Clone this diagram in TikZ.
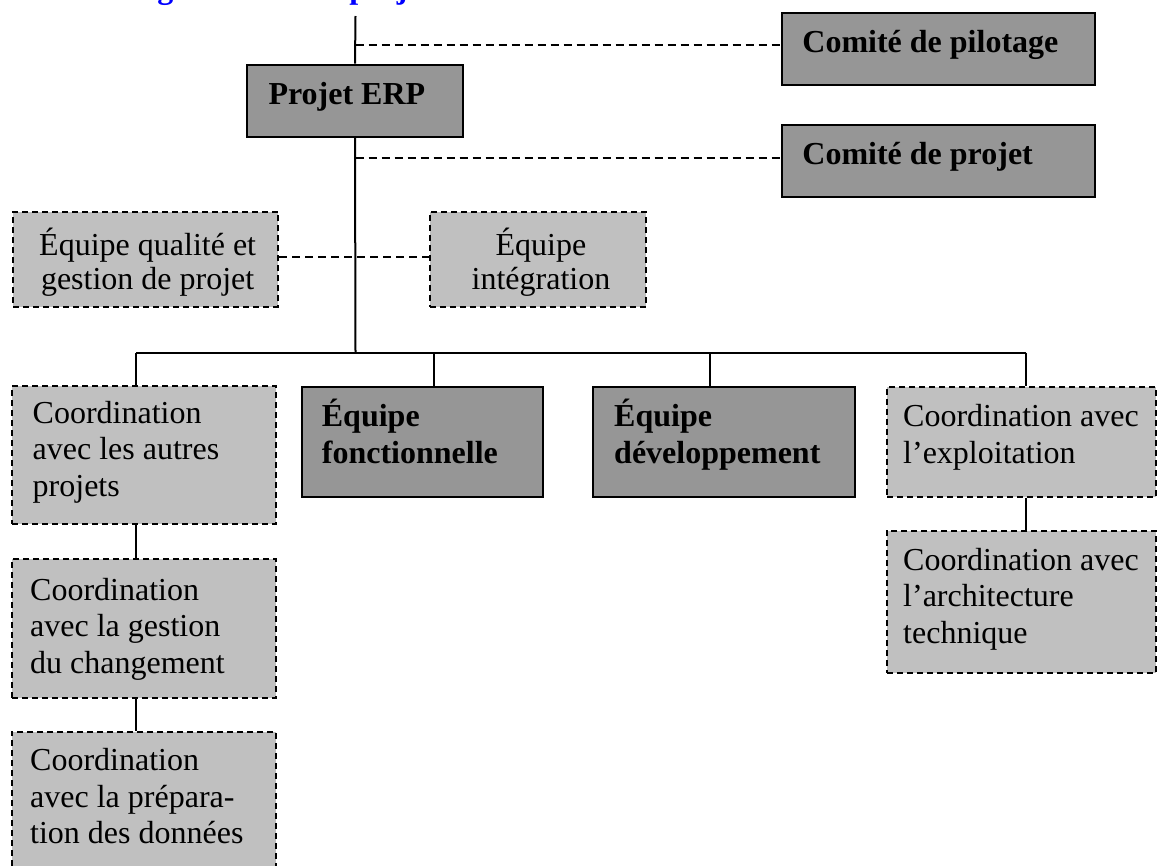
\documentclass[tikz,border=0pt]{standalone}
\usepackage{fontspec}
\setmainfont{Liberation Serif}
\usetikzlibrary{calc,fit}
\definecolor{boxdark}{RGB}{150,150,150}
\definecolor{boxlight}{RGB}{192,192,192}
\definecolor{titleblue}{RGB}{0,0,255}

% multi-line text whose reference point is the first baseline
\newcommand{\leftlines}[1]{\begin{tabular}[t]{@{}l@{}}#1\end{tabular}}
\newcommand{\centerlines}[1]{\begin{tabular}[t]{@{}c@{}}#1\end{tabular}}

\begin{document}
\begin{tikzpicture}[x=1pt,y=-1pt,
  boxbase/.style={rectangle, inner sep=0pt, line width=2pt},
  mainbox/.style={boxbase, draw=black, fill=boxdark},
  auxbox/.style={boxbase, draw=black, fill=boxlight, dash pattern=on 6pt off 4pt},
  link/.style={draw=black, line width=2pt},
  dashlink/.style={draw=black, line width=2pt, dash pattern=on 8pt off 5pt},
  boxtext/.style={inner sep=0pt, anchor=base west, font=\fontsize{32}{36.5}\selectfont},
  boldtext/.style={boxtext, font=\fontsize{32}{37}\selectfont\bfseries},
  midtext/.style={inner sep=0pt, anchor=base, font=\fontsize{32}{34}\selectfont},
]
\useasboundingbox (0,0) rectangle (1158,865);
\begin{scope}
\clip (0,0) rectangle (1158,865);

% heading, mostly above the page
\node[inner sep=0pt, anchor=base west, text=titleblue,
      font=\fontsize{32}{36.5}\selectfont\bfseries] (title) at (118,-1.5) {Organisation du projet};

% boxes
\node[mainbox, fit={(781.7,12.7) (1095,85)}] (pilot) {};
\node[mainbox, fit={(781.7,125) (1095,197.3)}] (cproj) {};
\node[mainbox, fit={(247.3,64.7) (462.7,136.7)}] (erp) {};
\node[auxbox, fit={(13.3,211.7) (278,306.7)}] (qual) {};
\node[auxbox, fit={(430,211.7) (646,306.7)}] (integ) {};
\node[auxbox, fit={(12,386) (276,524)}] (autres) {};
\node[mainbox, fit={(301.7,386.7) (542.7,496.7)}] (fonc) {};
\node[mainbox, fit={(593.3,386.7) (855,496.7)}] (dev) {};
\node[auxbox, fit={(887,386.7) (1156,496.7)}] (expl) {};
\node[auxbox, fit={(887,530.7) (1156,673)}] (arch) {};
\node[auxbox, fit={(12,559) (276,698)}] (chg) {};
\node[auxbox, fit={(12,731.7) (276,885)}] (donnees) {};

% hierarchy lines
\coordinate (trunktop) at (355.5,16);
\coordinate (hub) at (355.5,352.7);
\coordinate (tap1) at (355.5,45);
\coordinate (tap2) at (355.5,158);
\coordinate (tap3) at (355.5,256.7);
\coordinate (drop1) at (136,352.7);
\coordinate (drop2) at (434,352.7);
\coordinate (drop3) at (710,352.7);
\coordinate (drop4) at (1026,352.7);

\draw[link] (trunktop) -- (erp.north);
\draw[link] (erp.south) -- (hub);
\draw[dashlink] (tap1) -- (tap1 -| pilot.west);
\draw[dashlink] (tap2) -- (tap2 -| cproj.west);
\draw[dashlink] (tap3 -| qual.east) -- (tap3 -| integ.west);
\draw[link] (drop1) -- (drop4);
\draw[link] (drop1) -- (drop1 |- autres.north);
\draw[link] (drop2) -- (drop2 |- fonc.north);
\draw[link] (drop3) -- (drop3 |- dev.north);
\draw[link] (drop4) -- (drop4 |- expl.north);
\draw[link] (drop1 |- autres.south) -- (drop1 |- chg.north);
\draw[link] (drop1 |- chg.south) -- (drop1 |- donnees.north);
\draw[link] (drop4 |- expl.south) -- (drop4 |- arch.north);

% texts
\node[boldtext] (tpilot) at ($(pilot.north west)+(21.5,40.6)$) {Comité de pilotage};
\node[boldtext] (tcproj) at ($(cproj.north west)+(21.5,40.6)$) {Comité de projet};
\node[boldtext] (terp) at ($(erp.north west)+(22,40.3)$) {Projet ERP};
\node[midtext] (tqual) at ($(qual.north)+(2,44.3)$) {\centerlines{Équipe qualité et\\gestion de projet}};
\node[midtext] (tinteg) at ($(integ.north)+(3,45)$) {\centerlines{Équipe\\intégration}};
\node[boxtext] (tautres) at ($(autres.north west)+(21.5,38.3)$) {\leftlines{Coordination\\avec les autres\\projets}};
\node[boldtext] (tfonc) at ($(fonc.north west)+(21,40.3)$) {\leftlines{Équipe\\fonctionnelle}};
\node[boldtext] (tdev) at ($(dev.north west)+(21.7,40.3)$) {\leftlines{Équipe\\développement}};
\node[boxtext] (texpl) at ($(expl.north west)+(17,41)$) {\leftlines{Coordination avec\\l’exploitation}};
\node[boxtext] (tarch) at ($(arch.north west)+(17,40.5)$) {\leftlines{Coordination avec\\l’architecture\\technique}};
\node[boxtext] (tchg) at ($(chg.north west)+(19,42)$) {\leftlines{Coordination\\avec la gestion\\du changement}};
\node[boxtext] (tdonnees) at ($(donnees.north west)+(19,40)$) {\leftlines{Coordination\\avec la prépara-\\tion des données}};
\end{scope}
\end{tikzpicture}
\end{document}
